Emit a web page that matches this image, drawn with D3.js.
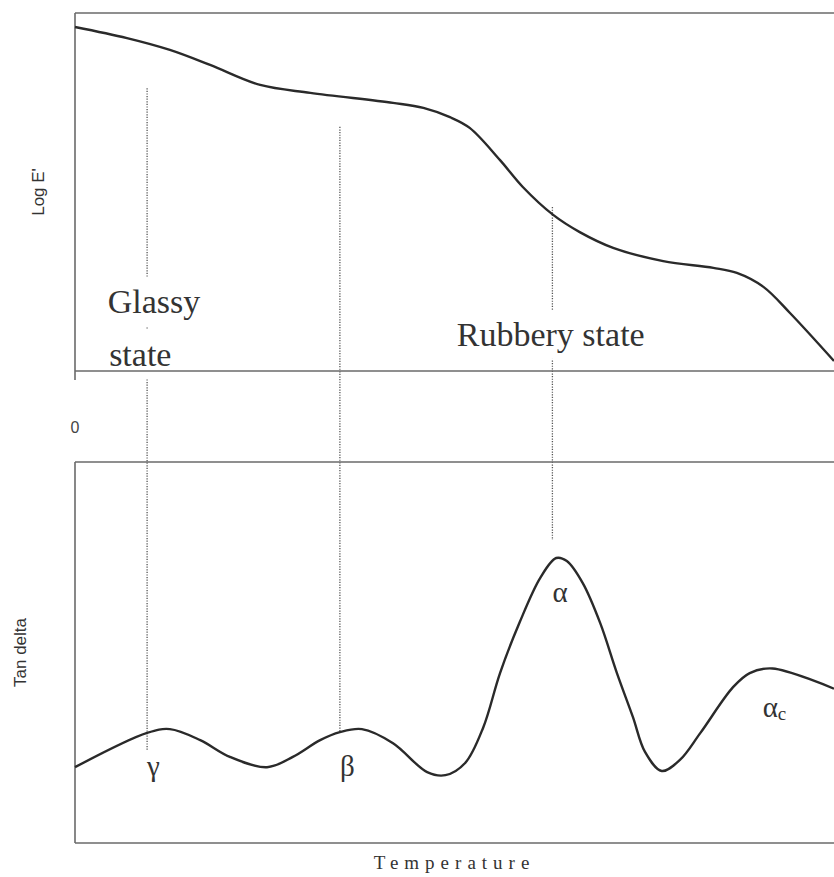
<!DOCTYPE html>
<html>
<head>
<meta charset="utf-8">
<title>DMA</title>
<script src="https://d3js.org/d3.v7.min.js"></script>
<style>
  body { margin: 0; background: #fff; }
</style>
</head>
<body>
<script>
// storage modulus (top panel), temperature in arbitrary units 0..100
var tempTop = [0, 6.85, 12.5, 17.8, 24.4, 31.0, 41.9, 45.9, 49.4, 52.0, 56.0, 59.0, 63.0, 66.5, 70.9, 77.5, 84.1, 87.2, 90.7, 94.2, 100];
var logE = [9.61, 9.30, 8.97, 8.55, 7.99, 7.77, 7.49, 7.35, 7.09, 6.79, 5.89, 5.14, 4.36, 3.88, 3.44, 3.07, 2.88, 2.74, 2.35, 1.62, 0.28];

// tan delta (bottom panel)
var tempBot = [0, 9.5, 12.5, 16.5, 20.4, 25.3, 28.7, 32.3, 34.9, 37.8, 41.9, 46.4, 48.8, 51.4, 53.8, 56.0, 58.6, 61.3, 63.4, 64.8, 66.9, 69.2, 71.4, 73.5, 75.1, 77.3, 79.7, 82.4, 86.7, 88.9, 91.9, 100];
var tanDelta = [1.99, 2.89, 2.99, 2.70, 2.26, 1.99, 2.26, 2.70, 2.91, 2.99, 2.62, 1.86, 1.78, 2.10, 3.04, 4.46, 5.80, 6.96, 7.48, 7.40, 6.82, 5.77, 4.46, 3.31, 2.39, 1.89, 2.18, 2.89, 4.09, 4.46, 4.58, 4.05];

// transitions: temperature, top end (log E'), bottom end (tan delta)
var transNames = ["\u03b3", "\u03b2", "\u03b1"];
var transTemp = [9.5, 34.9, 62.9];
var transTopVal = [7.9, 6.82, 4.58];
var transBotVal = [2.44, 2.94, 7.95];
var transLabelVal = [1.76, 1.76, 6.33];

var W = 834, H = 877;
var svg = d3.select("body").append("svg")
    .attr("width", W)
    .attr("height", H);

var x = d3.scaleLinear().domain([0, 100]).range([75, 834]);
var yTop = d3.scaleLinear().domain([0, 10]).range([371, 13]);
var yBot = d3.scaleLinear().domain([0, 10]).range([843, 462]);

var guideG = svg.append("g");
var maskG = svg.append("g");
var axisG = svg.append("g");
var curveG = svg.append("g");
var textG = svg.append("g");

// dotted guides
transTemp.forEach(function (t, i) {
    guideG.append("line")
        .attr("x1", x(t)).attr("x2", x(t))
        .attr("y1", yTop(transTopVal[i]))
        .attr("y2", yBot(transBotVal[i]))
        .attr("stroke", "#555")
        .attr("stroke-width", 1.3)
        .attr("stroke-dasharray", "1.2,1.4");
});

// frames
var frameColor = "#6a6a6a";
function hline(y, x1, x2) {
    axisG.append("line").attr("x1", x1).attr("x2", x2).attr("y1", y).attr("y2", y)
        .attr("stroke", frameColor).attr("stroke-width", 1.6);
}
function vline(xx, y1, y2) {
    axisG.append("line").attr("x1", xx).attr("x2", xx).attr("y1", y1).attr("y2", y2)
        .attr("stroke", frameColor).attr("stroke-width", 1.6);
}
hline(yTop(10), x(0), x(100));
hline(yTop(0), x(0), x(100));
vline(x(0), yTop(10), yTop(0) + 9);
hline(yBot(10), x(0), x(100));
hline(yBot(0), x(0), x(100));
vline(x(0), yBot(10), yBot(0));

// curves
var lineTop = d3.line()
    .x(function (d) { return x(d[0]); })
    .y(function (d) { return yTop(d[1]); })
    .curve(d3.curveCatmullRom.alpha(0.5));
var lineBot = d3.line()
    .x(function (d) { return x(d[0]); })
    .y(function (d) { return yBot(d[1]); })
    .curve(d3.curveCatmullRom.alpha(0.5));

curveG.append("path")
    .attr("d", lineTop(d3.zip(tempTop, logE)))
    .attr("fill", "none").attr("stroke", "#2a2a2a").attr("stroke-width", 2.4);
curveG.append("path")
    .attr("d", lineBot(d3.zip(tempBot, tanDelta)))
    .attr("fill", "none").attr("stroke", "#2a2a2a").attr("stroke-width", 2.4);

// state labels
var serif = "'Liberation Serif', 'Times New Roman', serif";
var sans = "'Liberation Sans', Arial, sans-serif";
var stateLabels = [
    { t: "Glassy", tx: 4.3, v: 1.62 },
    { t: "state", tx: 4.5, v: 0.14 },
    { t: "Rubbery state", tx: 50.3, v: 0.70 }
];
stateLabels.forEach(function (d) {
    var el = textG.append("text")
        .attr("x", x(d.tx)).attr("y", yTop(d.v))
        .attr("font-family", serif)
        .attr("font-size", 34)
        .attr("fill", "#333")
        .text(d.t);
    var b = el.node().getBBox();
    maskG.append("rect")
        .attr("x", b.x - 4).attr("y", b.y - 6)
        .attr("width", b.width + 8).attr("height", b.height + 12)
        .attr("fill", "#fff");
});

// transition labels
transNames.forEach(function (n, i) {
    textG.append("text")
        .attr("x", x(transTemp[i])).attr("y", yBot(transLabelVal[i]))
        .attr("font-family", serif)
        .attr("font-size", 29)
        .attr("fill", "#333")
        .text(n);
});
var ac = textG.append("text")
    .attr("x", x(90.6)).attr("y", yBot(3.31))
    .attr("font-family", serif)
    .attr("font-size", 29)
    .attr("fill", "#333")
    .text("\u03b1");
ac.append("tspan").attr("font-size", 19).attr("dy", 3).text("c");

// axis titles
textG.append("text")
    .attr("transform", "translate(44," + yTop(5) + ") rotate(-90)")
    .attr("text-anchor", "middle")
    .attr("font-family", sans).attr("font-size", 17).attr("fill", "#333")
    .text("Log E'");
textG.append("text")
    .attr("transform", "translate(26," + yBot(5.0) + ") rotate(-90)")
    .attr("text-anchor", "middle")
    .attr("font-family", sans).attr("font-size", 17).attr("fill", "#333")
    .text("Tan delta");
textG.append("text")
    .attr("x", x(0)).attr("y", 433)
    .attr("text-anchor", "middle")
    .attr("font-family", sans).attr("font-size", 16).attr("fill", "#444")
    .text("0");
textG.append("text")
    .attr("x", x(50)).attr("y", 869)
    .attr("text-anchor", "middle")
    .attr("font-family", serif).attr("font-size", 19)
    .attr("letter-spacing", 6)
    .attr("fill", "#333")
    .text("Temperature");
</script>
</body>
</html>
